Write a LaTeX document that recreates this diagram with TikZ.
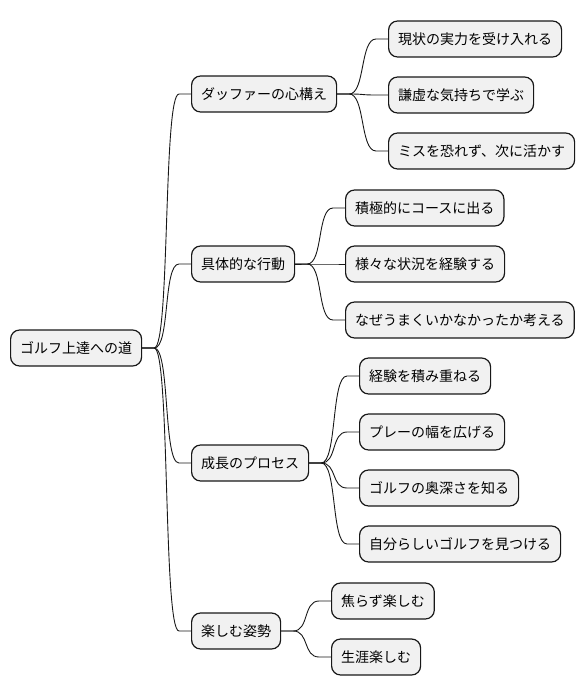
\documentclass[tikz,border=0pt]{standalone}
\usepackage{fontspec}
\setmainfont{Noto Sans CJK JP}
\usetikzlibrary{calc}
\definecolor{boxfill}{HTML}{F1F1F1}
\definecolor{boxline}{HTML}{181818}
\tikzset{
  topic/.style={draw=boxline, fill=boxfill, line width=1.2pt, rounded corners=9pt,
    minimum height=36pt, inner xsep=9.5pt, anchor=west,
    font=\fontsize{14}{17}\selectfont},
  conn/.style={draw=boxline, line width=0.9pt}
}
% 枝: 親の右から子の左へ
\newcommand{\branch}[2]{%
  \draw[conn] (#1.east) -- ++(12,0) .. controls +(16,0) and +(-16,0) .. ($(#2.west)+(-12,0)$) -- (#2.west);}
\begin{document}
\begin{tikzpicture}[x=1pt,y=-1pt]
        \useasboundingbox (0,0) rectangle (586,696);

        % 中心
        \node[topic] (root) at (10,348) {ゴルフ上達への道};

        % 第一階層
        \node[topic] (mind) at (191,94) {ダッファーの心構え};
        \node[topic] (act) at (191,264) {具体的な行動};
        \node[topic] (grow) at (191,463) {成長のプロセス};
        \node[topic] (enjoy) at (191,631) {楽しむ姿勢};

        % 心構え
        \node[topic] (mindA) at (388,39) {現状の実力を受け入れる};
        \node[topic] (mindB) at (388,95) {謙虚な気持ちで学ぶ};
        \node[topic] (mindC) at (388,151) {ミスを恐れず、次に活かす};

        % 行動
        \node[topic] (actA) at (345,208) {積極的にコースに出る};
        \node[topic] (actB) at (345,264) {様々な状況を経験する};
        \node[topic] (actC) at (345,320) {なぜうまくいかなかったか考える};

        % 成長
        \node[topic] (growA) at (359,376) {経験を積み重ねる};
        \node[topic] (growB) at (359,432) {プレーの幅を広げる};
        \node[topic] (growC) at (359,488) {ゴルフの奥深さを知る};
        \node[topic] (growD) at (359,544) {自分らしいゴルフを見つける};

        % 楽しむ
        \node[topic] (enjoyA) at (331,601) {焦らず楽しむ};
        \node[topic] (enjoyB) at (331,657) {生涯楽しむ};

        % 枝
        \foreach \c in {mind,act,grow,enjoy} {\branch{root}{\c}}
        \foreach \c in {mindA,mindB,mindC} {\branch{mind}{\c}}
        \foreach \c in {actA,actB,actC} {\branch{act}{\c}}
        \foreach \c in {growA,growB,growC,growD} {\branch{grow}{\c}}
        \foreach \c in {enjoyA,enjoyB} {\branch{enjoy}{\c}}

\end{tikzpicture}
\end{document}
